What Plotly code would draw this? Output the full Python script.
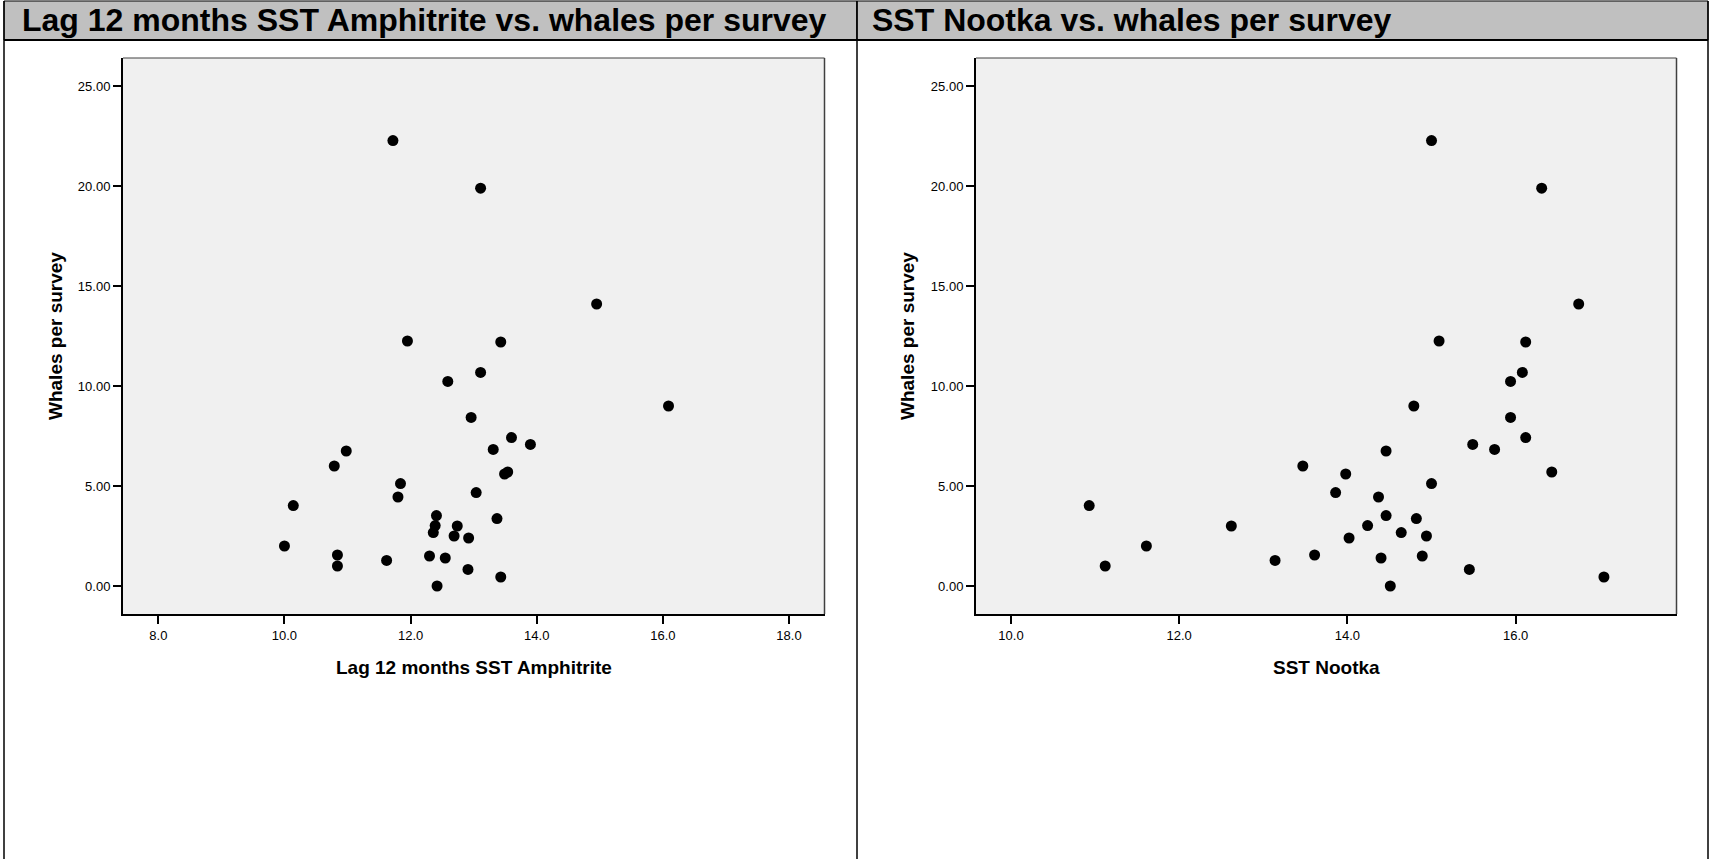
import plotly.graph_objects as go

# ---- data ----
whales_per_survey = [22.27, 19.89, 14.10, 12.25, 12.20, 10.68, 10.23, 9.00, 8.43, 7.42,
                     7.08, 6.83, 6.75, 6.00, 5.60, 5.70, 5.12, 4.67, 4.45, 4.02,
                     3.52, 3.37, 3.02, 3.00, 2.67, 2.50, 2.40, 2.00, 1.55, 1.50,
                     1.40, 1.28, 1.00, 0.83, 0.45, 0.00]
sst_amphitrite_lag12 = [11.72, 13.11, 14.95, 11.95, 13.43, 13.11, 12.59, 16.09, 12.96, 13.60,
                        13.90, 13.31, 10.98, 10.79, 13.49, 13.54, 11.84, 13.04, 11.80, 10.14,
                        12.41, 13.37, 12.39, 12.74, 12.36, 12.69, 12.92, 10.00, 10.84, 12.30,
                        12.55, 11.62, 10.84, 12.91, 13.43, 12.42]
sst_nootka = [15.00, 16.31, 16.75, 15.09, 16.12, 16.08, 15.94, 14.79, 15.94, 16.12,
              15.49, 15.75, 14.46, 13.47, 13.98, 16.43, 15.00, 13.86, 14.37, 10.93,
              14.46, 14.82, 14.24, 12.62, 14.64, 14.94, 14.02, 11.61, 13.61, 14.89,
              14.40, 13.14, 11.12, 15.45, 17.05, 14.51]

titles = ["Lag 12 months SST Amphitrite vs. whales per survey",
          "SST Nootka vs. whales per survey"]
x_titles = ["Lag 12 months SST Amphitrite", "SST Nootka"]
y_title = "Whales per survey"
y_ticks = [0, 5, 10, 15, 20, 25]
x_ticks_left = [8, 10, 12, 14, 16, 18]
x_ticks_right = [10, 12, 14, 16]

W, H = 1710, 859
def px(x):
    return x / W
def py(y):
    return 1 - y / H

FONT = "Liberation Sans, Arial, Helvetica, sans-serif"

fig = go.Figure()
marker = dict(color="black", size=11, line=dict(width=0))
fig.add_trace(go.Scatter(x=sst_amphitrite_lag12, y=whales_per_survey, mode="markers",
                         marker=marker, xaxis="x", yaxis="y", showlegend=False))
fig.add_trace(go.Scatter(x=sst_nootka, y=whales_per_survey, mode="markers",
                         marker=marker, xaxis="x2", yaxis="y2", showlegend=False))

# plot frames (pixel positions)
L1, R1 = 123, 824.5
L2, R2 = 976, 1676.5
T, B = 58, 614

ax_common = dict(showgrid=False, zeroline=False, showline=True, linecolor="black",
                 linewidth=2, ticks="outside", ticklen=8, tickwidth=1.5, tickcolor="black",
                 tickfont=dict(family=FONT, size=13, color="black"), mirror=False)

fig.update_layout(
    width=W, height=H, margin=dict(l=0, r=0, t=0, b=0),
    paper_bgcolor="white", plot_bgcolor="#f0f0f0",
    xaxis=dict(domain=[px(L1), px(R1)], range=[7.44, 18.563], tickvals=x_ticks_left,
               tickformat=".1f", anchor="y", **ax_common),
    yaxis=dict(domain=[py(B), py(T)], range=[-1.4, 26.4], tickvals=y_ticks,
               tickformat=".2f", anchor="x", **ax_common),
    xaxis2=dict(domain=[px(L2), px(R2)], range=[9.584, 17.913], tickvals=x_ticks_right,
                tickformat=".1f", anchor="y2", **ax_common),
    yaxis2=dict(domain=[py(B), py(T)], range=[-1.4, 26.4], tickvals=y_ticks,
                tickformat=".2f", anchor="x2", **ax_common),
)

shapes = []
# panel title bars
for x0, x1 in [(4, 857), (857, 1708)]:
    shapes.append(dict(type="rect", xref="paper", yref="paper", x0=px(x0), x1=px(x1),
                       y0=py(40), y1=py(1), fillcolor="#c0c0c0",
                       line=dict(color="black", width=1), layer="below"))
# separator under title bars
shapes.append(dict(type="line", xref="paper", yref="paper", x0=px(4), x1=px(1708),
                   y0=py(40), y1=py(40), line=dict(color="black", width=2)))
# panel vertical borders
for xv in [4, 857, 1708]:
    shapes.append(dict(type="line", xref="paper", yref="paper", x0=px(xv), x1=px(xv),
                       y0=0, y1=py(1), line=dict(color="black", width=1.5)))
# thin top/right frame lines
for (l, r) in [(L1, R1), (L2, R2)]:
    shapes.append(dict(type="line", xref="paper", yref="paper", x0=px(l), x1=px(r),
                       y0=py(T), y1=py(T), line=dict(color="#404040", width=1)))
    shapes.append(dict(type="line", xref="paper", yref="paper", x0=px(r), x1=px(r),
                       y0=py(B), y1=py(T), line=dict(color="#404040", width=1.5)))
fig.update_layout(shapes=shapes)

ann = []
for xl, t in [(20, titles[0]), (870, titles[1])]:
    ann.append(dict(text="<b>%s</b>" % t, xref="paper", yref="paper", x=px(xl), y=py(20),
                    xanchor="left", yanchor="middle", showarrow=False,
                    font=dict(family=FONT, size=32, color="black")))
for (l, r), t in zip([(L1, R1), (L2, R2)], x_titles):
    ann.append(dict(text="<b>%s</b>" % t, xref="paper", yref="paper", x=px((l + r) / 2),
                    y=py(667), xanchor="center", yanchor="middle", showarrow=False,
                    font=dict(family=FONT, size=19, color="black")))
for xc in [55, 907]:
    ann.append(dict(text="<b>%s</b>" % y_title, xref="paper", yref="paper", x=px(xc),
                    y=py((T + B) / 2), xanchor="center", yanchor="middle", showarrow=False,
                    textangle=-90, font=dict(family=FONT, size=19, color="black")))
fig.update_layout(annotations=ann)

fig.write_html("out.html", post_script="document.body.style.margin='0';",
               config={"displayModeBar": False})
